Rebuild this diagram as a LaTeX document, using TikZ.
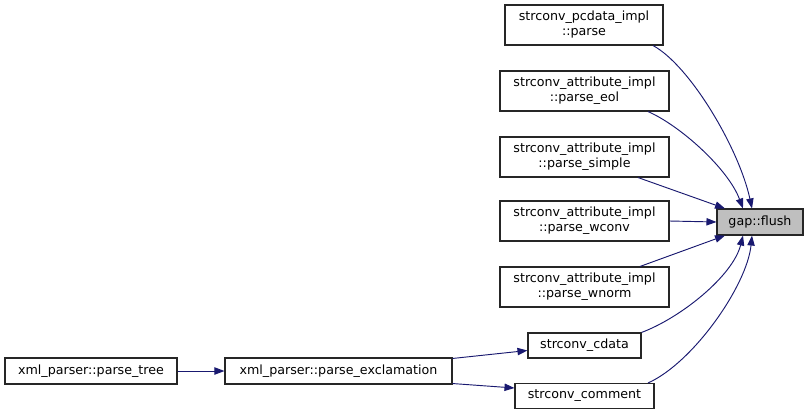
\documentclass[tikz,border=0pt]{standalone}
\usepackage{fontspec}
\setmainfont{DejaVu Sans}
\usetikzlibrary{arrows.meta,calc}
\definecolor{edgec}{HTML}{191970}
\definecolor{hl}{HTML}{BFBFBF}
\tikzset{
 fn/.style={draw=black!85, line width=0.8pt, fill=white, align=center, inner sep=0pt, font=\fontsize{9.5}{11.25}\selectfont},
 wh/.style 2 args={minimum width=#1*0.75pt, minimum height=#2*0.75pt},
 cl/.style={draw=edgec, line width=0.7pt, -{Triangle[length=7.5pt,width=5.5pt]}}}
\begin{document}
\begin{tikzpicture}[x=0.75pt,y=-0.75pt]
\useasboundingbox[fill=white] (0,0) rectangle (808,415);
\node[fn,wh={158}{40}] (pc) at (584,25) {strconv\_pcdata\_impl\\::parse};
\node[fn,wh={169}{40}] (eo) at (584.5,91) {strconv\_attribute\_impl\\::parse\_eol};
\node[fn,wh={169}{40}] (si) at (584.5,157) {strconv\_attribute\_impl\\::parse\_simple};
\node[fn,wh={169}{40}] (wc) at (584.5,221) {strconv\_attribute\_impl\\::parse\_wconv};
\node[fn,wh={169}{40}] (wn) at (584.5,287) {strconv\_attribute\_impl\\::parse\_wnorm};
\node[fn,wh={86}{26},fill=hl] (fl) at (760,222) {gap::flush};
\node[fn,wh={113}{25}] (cd) at (584.5,345.5) {strconv\_cdata};
\node[fn,wh={139}{25}] (cm) at (584.5,396) {strconv\_comment};
\node[fn,wh={172}{26}] (pt) at (91,371) {xml\_parser::parse\_tree};
\node[fn,wh={227}{26}] (ex) at (338.5,371) {xml\_parser::parse\_exclamation};
\draw[cl] ($(pc.south)+(69,0)$) .. controls +(37,20) and +(-13,-60) .. ($(fl.north)+(-8,0)$);
\draw[cl] ($(eo.south)+(63.5,0)$) .. controls +(32,14) and +(-15,-40) .. ($(fl.north)+(-17,0)$);
\draw[cl] ($(si.south)+(53.5,0)$) -- ($(fl.north)+(-35,0)$);
\draw[cl] (wc.east) -- (fl.west);
\draw[cl] ($(wn.north)+(55.5,0)$) -- ($(fl.south)+(-35,0)$);
\draw[cl] ($(cd.north)+(57,0)$) .. controls +(40,-15) and +(-10,40) .. ($(fl.south)+(-17,0)$);
\draw[cl] ($(cm.north)+(63.5,0)$) .. controls +(45,-20) and +(-5,50) .. ($(fl.south)+(-8,0)$);
\draw[cl] (pt.east) -- (ex.west);
\draw[cl] ($(ex.north east)+(0,1)$) -- ($(cd.west)+(0,5)$);
\draw[cl] ($(ex.south east)+(0,-1)$) -- ($(cm.west)+(0,-8)$);
\end{tikzpicture}
\end{document}
